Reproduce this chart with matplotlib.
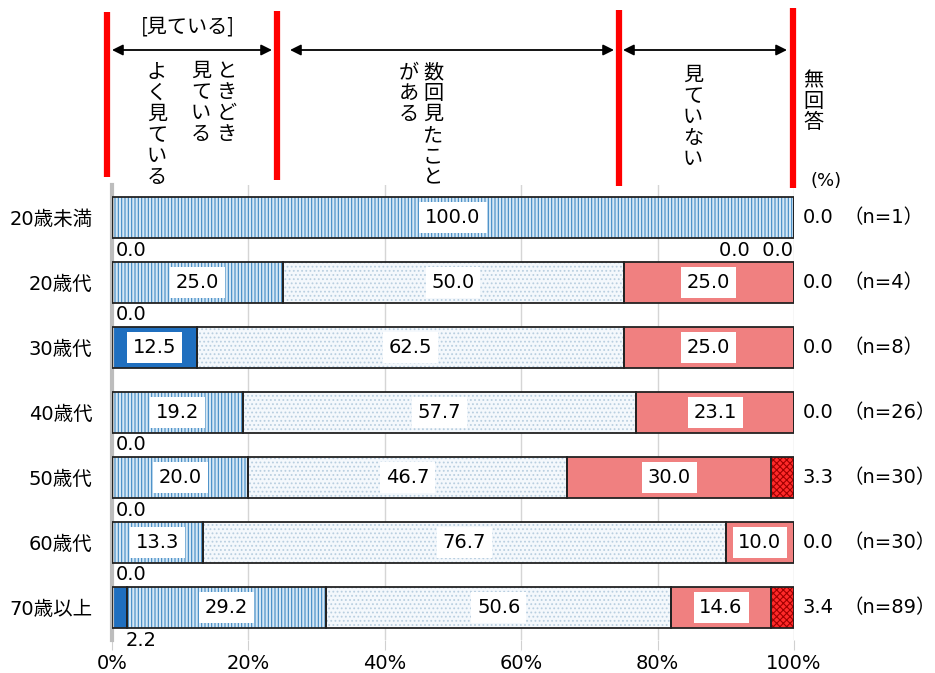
import matplotlib
matplotlib.use("Agg")
import matplotlib.pyplot as plt
import numpy as np

plt.rcParams['font.family'] = ['DejaVu Sans', 'Noto Sans CJK JP']
plt.rcParams['hatch.linewidth'] = 0.8

categories = ['20歳未満', '20歳代', '30歳代', '40歳代', '50歳代', '60歳代', '70歳以上']
n_counts = [1, 4, 8, 26, 30, 30, 89]
yoku = [0.0, 0.0, 12.5, 0.0, 0.0, 0.0, 2.2]
tokidoki = [100.0, 25.0, 0.0, 19.2, 20.0, 13.3, 29.2]
suukai = [0.0, 50.0, 62.5, 57.7, 46.7, 76.7, 50.6]
miteinai = [0.0, 25.0, 25.0, 23.1, 30.0, 10.0, 14.6]
mukaitou = [0.0, 0.0, 0.0, 0.0, 3.3, 0.0, 3.4]
xticks = [0, 20, 40, 60, 80, 100]
xticklabels = ['0%', '20%', '40%', '60%', '80%', '100%']

series = [yoku, tokidoki, suukai, miteinai, mukaitou]
styles = [
    dict(fc='#1f6fbf', hatch=None, hc='#1f6fbf'),
    dict(fc='#d6e8f5', hatch='|||||', hc='#3f89c4'),
    dict(fc='#f4f8fc', hatch='....', hc='#b9cfe0'),
    dict(fc='#f08080', hatch=None, hc='#f08080'),
    dict(fc='#ff2a2a', hatch='xxxxx', hc='#a00000'),
]

W, H = 935, 673
fig = plt.figure(figsize=(W / 100, H / 100), dpi=100)
ax = fig.add_axes([112 / W, (H - 640) / H, (794 - 112) / W, 455 / H])

y = np.arange(len(categories))
bh = 0.62
left = np.zeros(len(categories))
for vals, st in zip(series, styles):
    v = np.array(vals)
    ax.barh(y, v, left=left, height=bh, color=st['fc'], edgecolor=st['hc'],
            hatch=st['hatch'], linewidth=0, zorder=2)
    ax.barh(y, v, left=left, height=bh, fill=False, edgecolor='#222222',
            linewidth=1.3, zorder=3)
    left = left + v

ax.set_xlim(0, 100)
ax.set_ylim(len(categories) - 0.5, -0.5)
ax.set_yticks(y)
ax.set_yticklabels(categories, fontsize=14)
ax.set_xticks(xticks)
ax.set_xticklabels(xticklabels, fontsize=14)
ax.tick_params(axis='y', length=0, pad=14)
ax.tick_params(axis='x', length=7, color='#d0d0d0', pad=3)
for s in ['top', 'right', 'bottom']:
    ax.spines[s].set_visible(False)
ax.spines['left'].set_color('#bdbdbd')
ax.spines['left'].set_linewidth(3)
ax.grid(axis='x', color='#d5d5d5', linewidth=1, zorder=0)
ax.set_axisbelow(True)

box = dict(boxstyle='square,pad=0.3', fc='white', ec='none')
fs = 14
for i in range(len(categories)):
    cum = 0.0
    low_y = i + bh / 2 + 0.19
    for k, vals in enumerate(series[:4]):
        v = vals[i]
        if v >= 5:
            ax.text(cum + v / 2, i, f'{v:.1f}', ha='center', va='center',
                    fontsize=fs, bbox=box, zorder=5)
        elif k == 0:
            ax.text(cum + 0.5 + (1.5 if v > 0 else 0), low_y, f'{v:.1f}',
                    ha='left', va='center', fontsize=fs, zorder=5)
        cum += v
    tail = [vals[i] for vals in series[2:4] if vals[i] == 0]
    if len(tail) == 2:
        ax.text(99.8, low_y, '  '.join(f'{t:.1f}' for t in tail), ha='right',
                va='center', fontsize=fs, zorder=5)
    ax.text(101.3, i, f'{mukaitou[i]:.1f}', ha='left', va='center', fontsize=fs,
            clip_on=False)
    ax.text(107.3, i, f'（n={n_counts[i]}）', ha='left', va='center',
            fontsize=fs, clip_on=False)

# header annotations (pixel overlay)
ov = fig.add_axes([0, 0, 1, 1])
ov.set_xlim(0, W)
ov.set_ylim(H, 0)
ov.axis('off')
ov.patch.set_alpha(0)

for x, y0, y1 in [(107, 12, 177), (277, 11, 180), (619, 10, 186), (793, 8, 188)]:
    ov.plot([x, x], [y0, y1], color='#ff0000', lw=4.5, solid_capstyle='butt')

arrow = dict(arrowstyle='<|-|>', color='black', lw=1.3, mutation_scale=16,
             shrinkA=0, shrinkB=0)
for x0, x1 in [(112, 272), (290, 614), (623, 787)]:
    ov.annotate('', xy=(x1, 50), xytext=(x0, 50), arrowprops=arrow)

ov.text(188, 27, '[見ている]', ha='center', va='center', fontsize=14.5,
        family=['Noto Sans CJK JP'])

def vtext(x, ytop, s, fsz=14.5):
    ov.text(x, ytop, '\n'.join(s), ha='center', va='top', fontsize=fsz,
            linespacing=1.0, family=['Noto Sans CJK JP'])

vtext(157, 62, 'よく見ている')
vtext(227, 61, 'ときどき')
vtext(201, 61, '見ている')
vtext(433, 62, '数回見たこと')
vtext(409, 62, 'がある')
vtext(693, 65, '見ていない')
vtext(813, 70, '無回答')
ov.text(826, 181, '(%)', ha='center', va='center', fontsize=13)

fig.savefig('out.png', dpi=100)
